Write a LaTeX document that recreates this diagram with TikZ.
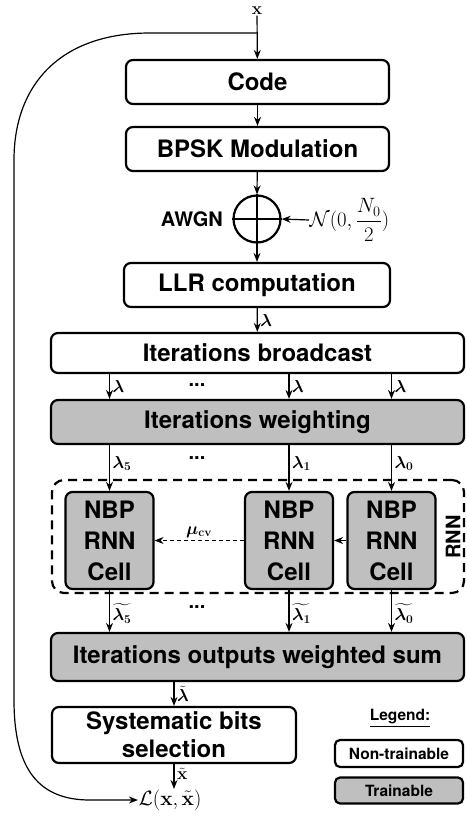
\documentclass[tikz,border=0pt]{standalone}
\usepackage{amsmath}
\usepackage{bm}
\usepackage[no-math]{fontspec}
\setmainfont{TeX Gyre Heros}
\usetikzlibrary{positioning,arrows.meta,calc}

\begin{document}
\begin{tikzpicture}[x=1pt, y=-1pt,
    box/.style={draw, line width=2.2pt, rounded corners=7pt, align=center, inner sep=0pt,
        font=\bfseries\fontsize{24}{28}\selectfont},
    trainbox/.style={box, fill=black!25},
    cellbox/.style={trainbox, minimum width=88pt, minimum height=97pt,
        font=\bfseries\fontsize{24}{31}\selectfont},
    legbox/.style={draw, line width=2.2pt, rounded corners=5pt, inner sep=0pt,
        minimum width=128pt, minimum height=26pt, font=\bfseries\fontsize{15.5}{18}\selectfont},
    arrow/.style={-{Stealth[length=9pt,width=7pt]}, line width=1.2pt},
    lab/.style={font=\fontsize{18.5}{22}\selectfont, inner sep=0.5pt},
    dots/.style={font=\bfseries\fontsize{20}{24}\selectfont}]

    \useasboundingbox (0,0) rectangle (466,819);

    % Encoder and modulation
    \node[lab] (x) at (257,11) {$\mathbf{x}$};
    \coordinate (split) at (257,33);
    \node[box, minimum width=263pt, minimum height=44pt] (code) at (257.5,82) {Code};
    \node[box, minimum width=263pt, minimum height=44pt] (bpsk) at (257.5,149) {BPSK Modulation};

    % Channel
    \node[circle, draw, line width=2.2pt, minimum size=47pt, inner sep=0pt] (adder) at (257,219) {};
    \draw[line width=2.2pt] (adder.west) -- (adder.east);
    \draw[line width=1.2pt] (adder.north) -- (adder.south);
    \node[dots, left=6pt of adder] (awgn) {AWGN};
    \node[lab, anchor=west, font=\fontsize{20}{24}\selectfont] (noise) at (309,220) {$\mathcal{N}(0,\dfrac{N_0}{2})$};

    % Receiver front end
    \node[box, minimum width=266pt, minimum height=44pt] (llr) at (257,285) {LLR computation};
    \node[box, minimum width=413pt, minimum height=40pt] (bcast) at (257.5,353) {Iterations broadcast};
    \node[trainbox, minimum width=413pt, minimum height=44pt] (weight) at (257.5,422) {Iterations weighting};

    % Unfolded RNN
    \node[draw, line width=2.2pt, dash pattern=on 9pt off 6pt, rounded corners=12pt,
        minimum width=412pt, minimum height=113pt] (rnn) at (258,536.5) {};
    \node[cellbox] (cellL) at (109.5,540.5) {NBP\\RNN\\Cell};
    \node[cellbox] (cellM) at (289,540.5) {NBP\\RNN\\Cell};
    \node[cellbox] (cellR) at (391.5,540.5) {NBP\\RNN\\Cell};
    \node[dots, rotate=90] (rnnlab) at (453,537) {RNN};

    % Output side
    \node[trainbox, minimum width=413pt, minimum height=48pt] (sum) at (257.5,657) {Iterations outputs weighted sum};
    \node[box, minimum width=244pt, minimum height=56pt] (sys) at (174,735) {Systematic bits\\selection};
    \node[lab, font=\fontsize{20}{24}\selectfont] (loss) at (170,800) {$\mathcal{L}(\mathbf{x},\tilde{\mathbf{x}})$};

    % Connect components with arrows
    \draw[arrow] (x) -- (code);
    \draw[arrow] (code) -- (bpsk);
    \draw[arrow] (bpsk) -- (adder.north);
    \draw[arrow] (noise.west) -- (adder.east);
    \draw[arrow] (adder.south) -- (llr);
    \draw[arrow] (llr) -- (bcast) node[midway, right=2pt, lab] {$\bm{\lambda}$};

    \draw[arrow] (bcast.south -| cellL) -- (weight.north -| cellL) node[midway, right=2pt, lab] {$\bm{\lambda}$};
    \draw[arrow] (bcast.south -| cellM) -- (weight.north -| cellM) node[midway, right=2pt, lab] {$\bm{\lambda}$};
    \draw[arrow] (bcast.south -| cellR) -- (weight.north -| cellR) node[midway, right=2pt, lab] {$\bm{\lambda}$};

    \draw[arrow] (weight.south -| cellL) -- (cellL) node[pos=0.4, right=2pt, lab] {$\bm{\lambda_5}$};
    \draw[arrow] (weight.south -| cellM) -- (cellM) node[pos=0.4, right=2pt, lab] {$\bm{\lambda_1}$};
    \draw[arrow] (weight.south -| cellR) -- (cellR) node[pos=0.4, right=2pt, lab] {$\bm{\lambda_0}$};

    \draw[arrow] (cellR) -- (cellM);
    \draw[arrow, line width=0.9pt, dash pattern=on 4pt off 3pt] (cellM) -- (cellL)
        node[midway, above=2pt, lab] {$\bm{\mu}_{\mathbf{cv}}$};

    \draw[arrow] (cellL) -- (sum.north -| cellL) node[pos=0.55, right=2pt, lab] {$\widetilde{\bm{\lambda_5}}$};
    \draw[arrow] (cellM) -- (sum.north -| cellM) node[pos=0.55, right=2pt, lab] {$\widetilde{\bm{\lambda_1}}$};
    \draw[arrow] (cellR) -- (sum.north -| cellR) node[pos=0.55, right=2pt, lab] {$\widetilde{\bm{\lambda_0}}$};

    \draw[arrow] (sum.south -| sys) -- (sys) node[midway, right=2pt, lab] {$\tilde{\bm{\lambda}}$};
    \draw[arrow] (sys.south) -- (sys.south |- loss.north) node[pos=0.4, right=2pt, lab] {$\tilde{\mathbf{x}}$};

    % Loss feedback from the source bits
    \draw[arrow] (split) -- (150,33) .. controls (60,33) and (14,85) .. (14,160)
        -- (14,700) .. controls (14,771) and (40,800) .. (90,800) -- (loss.west);

    % Dots between iterations
    \node[dots] (dots1) at (197,385) {...};
    \node[dots] (dots2) at (197,458) {...};
    \node[dots] (dots3) at (197,607) {...};

    % Legend
    \node[font=\bfseries\fontsize{15.5}{18}\selectfont] (legend) at (400,718) {\underline{Legend:}};
    \node[legbox, minimum height=27pt] (nontrain) at (399,753.5) {Non-trainable};
    \node[legbox, fill=black!25] (train) at (399,790.5) {Trainable};
\end{tikzpicture}
\end{document}
